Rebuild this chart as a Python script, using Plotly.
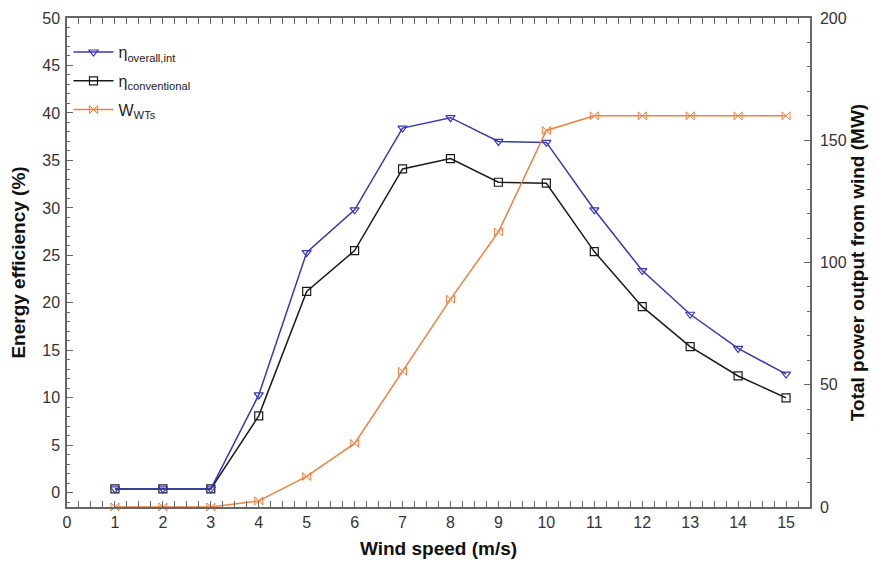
import plotly.graph_objects as go

wind_speed = [1, 2, 3, 4, 5, 6, 7, 8, 9, 10, 11, 12, 13, 14, 15]
eta_overall_int = [0.4, 0.4, 0.4, 10.3, 25.3, 29.8, 38.4, 39.5, 37.0, 36.9, 29.8, 23.4, 18.8, 15.2, 12.5]
eta_conventional = [0.4, 0.4, 0.4, 8.1, 21.2, 25.5, 34.1, 35.2, 32.7, 32.6, 25.4, 19.6, 15.4, 12.3, 10.0]
w_wts = [0, 0, 0, 2.5, 12.5, 26, 55.5, 85, 112.5, 154, 160, 160, 160, 160, 160]

fig = go.Figure()
fig.add_trace(go.Scatter(
    x=wind_speed, y=w_wts, yaxis="y2", name="W<sub>WTs</sub>",
    mode="lines+markers", line=dict(color="#F08040", width=1.5),
    marker=dict(symbol="bowtie-open", size=8, color="#F08040"),
    cliponaxis=False, legendrank=3, legendgroup="c"))
fig.add_trace(go.Scatter(
    x=wind_speed, y=eta_conventional, name="η<sub>conventional</sub>",
    mode="lines+markers", line=dict(color="#1a1a1a", width=1.5),
    marker=dict(symbol="square-open", size=8, color="#1a1a1a", line=dict(width=1.2)),
    legendrank=2, legendgroup="b"))
fig.add_trace(go.Scatter(
    x=wind_speed, y=eta_overall_int, name="η<sub>overall,int</sub>",
    mode="lines+markers", line=dict(color="#3838B0", width=1.5),
    marker=dict(symbol="triangle-down-open", size=8, color="#3838B0", line=dict(width=1.2)),
    legendrank=1, legendgroup="a"))

axis_font = dict(family="Liberation Sans, Arial, sans-serif", size=16, color="#333")
title_font = dict(family="Liberation Sans, Arial, sans-serif", size=19, color="#111")

fig.update_layout(
    width=878, height=566,
    margin=dict(l=59, r=76, t=10, b=67),
    plot_bgcolor="white", paper_bgcolor="white",
    showlegend=True,
    legend=dict(x=0.002, y=0.965, xanchor="left", yanchor="top",
                bgcolor="rgba(0,0,0,0)", tracegroupgap=5,
                font=dict(family="Liberation Sans, Arial, sans-serif", size=16, color="#222"),
                itemwidth=40),
    xaxis=dict(
        range=[0, 15.5], dtick=1, tick0=0, automargin=False,
        showgrid=False, zeroline=False,
        showline=True, linecolor="#666", linewidth=1.5, mirror="allticks",
        ticks="inside", ticklen=6, tickcolor="#666", ticklabelstandoff=0,
        minor=dict(dtick=0.25, ticks="inside", ticklen=3, tickcolor="#666"),
        tickfont=axis_font,
        title=dict(text="<b>Wind speed (m/s)</b>", font=title_font, standoff=12),
    ),
    yaxis=dict(
        range=[-1.5, 50], dtick=5, tick0=0, automargin=False,
        showgrid=False, zeroline=False,
        showline=True, linecolor="#666", linewidth=1.5,
        ticks="inside", ticklen=6, tickcolor="#666", ticklabelstandoff=2,
        minor=dict(dtick=1, ticks="inside", ticklen=3, tickcolor="#666"),
        tickfont=axis_font,
        title=dict(text="<b>Energy efficiency (%)</b>", font=title_font, standoff=12),
    ),
    yaxis2=dict(
        overlaying="y", side="right", automargin=False,
        range=[0, 200], dtick=50, tick0=0,
        showgrid=False, zeroline=False,
        showline=True, linecolor="#666", linewidth=1.5,
        ticks="inside", ticklen=6, tickcolor="#666", ticklabelstandoff=5,
        minor=dict(dtick=10, ticks="inside", ticklen=3, tickcolor="#666"),
        tickfont=axis_font,
        title=dict(text="<b>Total power output from wind (MW)</b>", font=title_font, standoff=3),
    ),
)

fig.write_html("out.html")
